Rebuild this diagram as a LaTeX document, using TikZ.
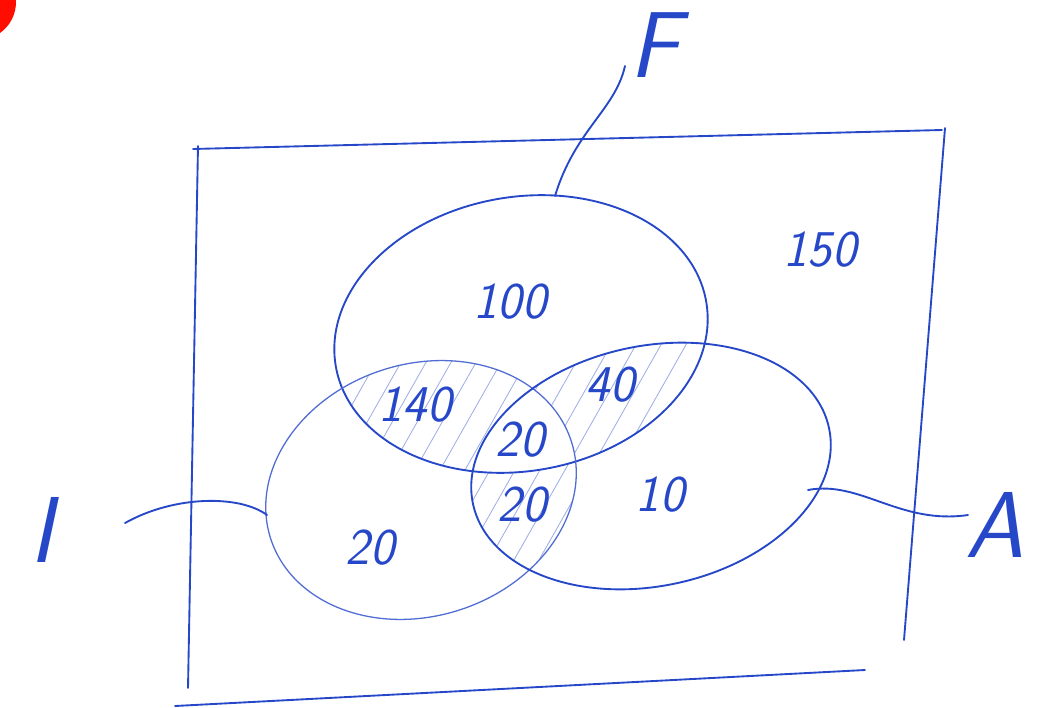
\documentclass[tikz,border=0pt]{standalone}
\usepackage{tikz}

\definecolor{ink}{RGB}{38,72,200}
\tikzset{
  pen/.style={draw=ink,line width=1.6pt,line cap=round},
  thin pen/.style={draw=ink!80,line width=1.1pt,line cap=round},
  hatch/.style={draw=ink!45,line width=0.7pt},
  num/.style={text=ink,font=\fontsize{44}{44}\selectfont\sffamily\slshape},
  letter/.style={text=ink,font=\fontsize{80}{80}\selectfont\sffamily\slshape}
}
% the three sets
\newcommand{\Fset}{(521,334) ellipse [x radius=188,y radius=137,rotate=10]}
\newcommand{\Iset}{(421,490) ellipse [x radius=158,y radius=126,rotate=18]}
\newcommand{\Aset}{(651,466) ellipse [x radius=182,y radius=120,rotate=12]}

\begin{document}
\begin{tikzpicture}[x=0.03cm,y=-0.03cm]
  \clip (0,0) rectangle (1045,708);
  \fill[red!90!orange] (-22,2) circle [radius=38];
  % hatching of the pairwise overlaps
  \begin{scope} \clip \Fset; \clip \Iset;
    \foreach \x in {180,205,...,700} \draw[hatch] (\x,620) -- ++(170,-300);
  \end{scope}
  \begin{scope} \clip \Fset; \clip \Aset;
    \foreach \x in {180,205,...,800} \draw[hatch] (\x,620) -- ++(170,-300);
  \end{scope}
  \begin{scope} \clip \Iset; \clip \Aset;
    \foreach \x in {180,205,...,800} \draw[hatch] (\x,620) -- ++(170,-300);
  \end{scope}
  \begin{scope} \clip \Fset; \clip \Iset; \fill[white] \Aset; \end{scope}
  % universe
  \draw[pen] (193,149) -- (942,130);
  \draw[pen] (198,146) -- (188,688);
  \draw[pen] (945,128) -- (904,640);
  \draw[pen] (175,706) -- (865,670);
  \draw[pen] \Fset;
  \draw[thin pen] \Iset;
  \draw[pen] \Aset;
  % set names
  \coordinate (fEnd) at (555,196); \coordinate (fTip) at (625,66);
  \coordinate (iEnd) at (267,515); \coordinate (iTip) at (125,523);
  \coordinate (aEnd) at (808,490); \coordinate (aTip) at (968,515);
  \draw[pen] (fEnd) .. controls (575,130) and (615,110) .. (fTip);
  \draw[pen] (iEnd) .. controls (240,495) and (175,495) .. (iTip);
  \draw[pen] (aEnd) .. controls (860,480) and (900,525) .. (aTip);
  \node[letter] (F) at (655,45) {F};
  \node[letter] (I) at (42,530) {I};
  \node[letter] (A) at (995,525) {A};
  % counts
  \foreach \v/\x/\y/\n in {100/510/302/nF,150/820/250/nU,140/415/405/nFI,40/610/385/nFA,
      20/520/440/nFIA,20/522/505/nIA,10/660/495/nA,20/370/548/nI}
    \node[num] (\n) at (\x,\y) {\v};
\end{tikzpicture}
\end{document}
